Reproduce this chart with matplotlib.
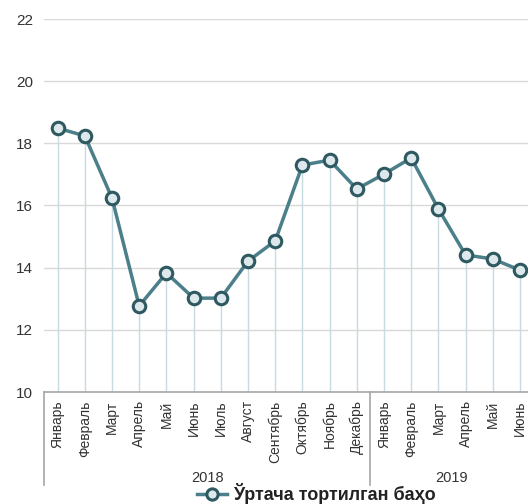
import matplotlib
matplotlib.use("Agg")
import matplotlib.pyplot as plt
from matplotlib import font_manager as fm

months = ["Январь", "Февраль", "Март", "Апрель", "Май", "Июнь", "Июль", "Август",
          "Сентябрь", "Октябрь", "Ноябрь", "Декабрь",
          "Январь", "Февраль", "Март", "Апрель", "Май", "Июнь"]
years = ["2018", "2019"]
year_counts = [12, 6]
values = [18.49, 18.24, 16.24, 12.77, 13.83, 13.02, 13.02, 14.21, 14.86, 17.30, 17.46, 16.53,
          17.01, 17.53, 15.89, 14.41, 14.28, 13.92]
series_name = "Ўртача тортилган баҳо"
yticks = [10, 12, 14, 16, 18, 20, 22]

names = {f.name for f in fm.fontManager.ttflist}
fam = ["Liberation Sans Narrow", "Liberation Sans", "DejaVu Sans"] if "Liberation Sans Narrow" in names else ["Liberation Sans", "DejaVu Sans"]
plt.rcParams["font.family"] = fam

fig = plt.figure(figsize=(5.28, 5.04), dpi=100)
ax = fig.add_axes([44/528, 112/504, 489.6/528, 373/504])
x = list(range(len(values)))
ax.set_xlim(-0.5, len(values) - 0.5)
ax.set_ylim(10, 22)

for yv in yticks[1:]:
    ax.axhline(yv, color="#d9d9d9", lw=1, zorder=0)
ax.vlines(x, 10, values, color="#c8dbe3", lw=1, zorder=1)

line_color = "#4b7f8a"
ax.plot(x, values, color=line_color, lw=2.5, marker="o", ms=9,
        mfc="#dce8ec", mec="#2f5961", mew=2.2, zorder=3, label=series_name)

for s in ["top", "right", "left"]:
    ax.spines[s].set_visible(False)
ax.spines["bottom"].set_color("#a6a6a6")
ax.spines["bottom"].set_linewidth(1.2)

ax.set_yticks(yticks)
ax.set_yticklabels([str(v) for v in yticks], fontsize=11, color="#333333")
ax.tick_params(axis="y", length=0, pad=8)
ax.set_xticks(x)
ax.set_xticklabels(months, rotation=90, fontsize=10, color="#333333", va="top")
ax.tick_params(axis="x", length=0, pad=6)

# year group separators and labels
trans = ax.get_xaxis_transform()
bottom = -93/373
pos = -0.5
bounds = [pos]
for c in year_counts:
    pos += c
    bounds.append(pos)
for b in bounds:
    ax.plot([b, b], [0, bottom], transform=trans, color="#a6a6a6", lw=1.2, clip_on=False)
for i, yr in enumerate(years):
    cx = (bounds[i] + bounds[i + 1]) / 2
    ax.text(cx, -86/373, yr, transform=trans, ha="center", va="center", fontsize=10.5, color="#333333")

leg = fig.legend(loc="center", bbox_to_anchor=(316/528, 10/504), frameon=False,
                 prop={"weight": "bold", "size": 13}, handlelength=1.7, handletextpad=0.3,
                 markerscale=0.9)
for t in leg.get_texts():
    t.set_color("#222222")

fig.savefig("out.png", dpi=100)
